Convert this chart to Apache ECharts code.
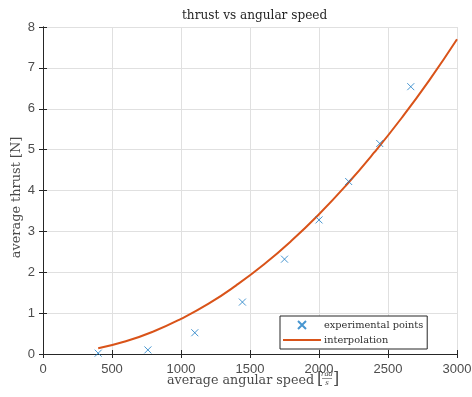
<!DOCTYPE html>
<html>
<head>
<meta charset="utf-8">
<script src="https://cdn.jsdelivr.net/npm/echarts@6/dist/echarts.min.js"></script>
<style>
  html, body { margin: 0; padding: 0; background: #fff; }
  #chart { width: 472px; height: 397px; }
</style>
</head>
<body>
<div id="chart"></div>
<script>
// 实验点
const speedPoints = [400, 760, 1100, 1445, 1750, 2000, 2215, 2440, 2665];
const thrustPoints = [0.02, 0.10, 0.52, 1.27, 2.32, 3.28, 4.22, 5.15, 6.54];
// 插值曲线 (读自图片)
const fitSpeed = [400, 600, 800, 1000, 1200, 1400, 1600, 1800, 2000, 2200, 2400, 2600, 2800, 3000];
const fitThrust = [0.14, 0.31, 0.55, 0.86, 1.23, 1.68, 2.19, 2.77, 3.42, 4.14, 4.93, 5.78, 6.70, 7.70];

const serif = '"DejaVu Serif", "Liberation Serif", serif';
const sans = '"Liberation Sans", Arial, sans-serif';
const axisColor = '#262626';
const labelColor = '#4a4a4a';

// 按目标宽度求字号
const ctx = document.createElement('canvas').getContext('2d');
const fitSize = (text, width) => {
    ctx.font = '20px ' + serif;
    return Math.round(20 * width / ctx.measureText(text).width * 10) / 10;
};
const titleSize = fitSize('thrust vs angular speed', 145);
const xNameSize = fitSize('average angular speed', 147);
const yNameSize = fitSize('average thrust [N]', 122);
const legendSize = fitSize('experimental points', 99);
ctx.font = xNameSize + 'px ' + serif;
const mainW = ctx.measureText('average angular speed').width;

const myChart = echarts.init(document.getElementById('chart'));

const baseAxis = {
    axisLine: { show: true, lineStyle: { color: axisColor, width: 1 } },
    axisTick: { show: true, inside: true, length: 4, lineStyle: { color: axisColor } },
    splitLine: { show: false },
    axisLabel: { show: false }
};

const option = {
    animation: false,
    title: {
        text: 'thrust vs angular speed',
        left: 177,
        top: 5,
        textStyle: { fontFamily: serif, fontWeight: 'normal', fontSize: titleSize, color: '#262626' }
    },
    grid: { left: 43, right: 15, top: 27, bottom: 43, outerBoundsMode: 'none', containLabel: false },
    legend: {
        orient: 'vertical',
        left: 280,
        top: 316,
        padding: [2, 4, 2, 3],
        itemGap: 1,
        itemWidth: 38,
        itemHeight: 8,
        borderColor: axisColor,
        borderWidth: 1,
        borderRadius: 0,
        backgroundColor: '#fff',
        textStyle: { fontFamily: serif, fontSize: legendSize, lineHeight: 14, color: '#303030', padding: [0, 0, 0, -2] },
        data: [
            { name: 'experimental points', icon: 'path://M0,0L10,10M10,0L0,10' },
            { name: 'interpolation', icon: 'path://M0,4L38,4L38,6.2L0,6.2Z', itemStyle: { color: '#D95319' } }
        ]
    },
    xAxis: [
        Object.assign({}, baseAxis, {
            type: 'value', position: 'bottom', min: 0, max: 3000, interval: 500,
            splitLine: { show: true, lineStyle: { color: '#e0e0e0' } },
            axisLabel: { show: true, color: '#4d4d4d', fontFamily: sans, fontSize: 13, margin: 9, formatter: v => String(v) }
        }),
        Object.assign({}, baseAxis, { type: 'value', position: 'top', min: 0, max: 3000, interval: 500 })
    ],
    yAxis: [
        Object.assign({}, baseAxis, {
            type: 'value', position: 'left', min: 0, max: 8, interval: 1,
            splitLine: { show: true, lineStyle: { color: '#e0e0e0' } },
            axisLabel: { show: true, color: '#4d4d4d', fontFamily: sans, fontSize: 13, margin: 8 },
            name: 'average thrust [N]',
            nameLocation: 'middle',
            nameGap: 20,
            nameMoveOverlap: false,
            nameTextStyle: { fontFamily: serif, fontSize: yNameSize, color: labelColor, padding: [0, 14, 0, 0] }
        }),
        Object.assign({}, baseAxis, { type: 'value', position: 'right', min: 0, max: 8, interval: 1 })
    ],
    graphic: [
        {
            type: 'group',
            left: 167,
            top: 371,
            children: [
                { type: 'text', x: 0, y: 11, style: { text: 'average angular speed', font: xNameSize + 'px ' + serif, fill: labelColor, verticalAlign: 'middle' } },
                { type: 'text', x: mainW + 3, y: 10, style: { text: '[', font: '16px ' + serif, fill: labelColor, verticalAlign: 'middle' } },
                { type: 'text', x: mainW + 13, y: 5, style: { text: 'rad', font: 'italic 7px ' + serif, fill: labelColor, align: 'center', verticalAlign: 'middle' } },
                { type: 'line', shape: { x1: mainW + 8, y1: 9, x2: mainW + 18, y2: 9 }, style: { stroke: labelColor, lineWidth: 0.6 } },
                { type: 'text', x: mainW + 13, y: 13.5, style: { text: 's', font: 'italic 7px ' + serif, fill: labelColor, align: 'center', verticalAlign: 'middle' } },
                { type: 'text', x: mainW + 19, y: 10, style: { text: ']', font: '16px ' + serif, fill: labelColor, verticalAlign: 'middle' } }
            ]
        }
    ],
    series: [
        {
            name: 'experimental points',
            type: 'scatter',
            data: speedPoints.map((s, i) => [s, thrustPoints[i]]),
            symbol: 'path://M0,0L10,10M10,0L0,10',
            symbolSize: 7,
            itemStyle: { color: '#1a7cc4', borderColor: '#1a7cc4', borderWidth: 1 },
            emphasis: { disabled: true },
            z: 3
        },
        {
            name: 'interpolation',
            type: 'line',
            data: fitSpeed.map((s, i) => [s, fitThrust[i]]),
            smooth: true,
            symbol: 'none',
            lineStyle: { color: '#D95319', width: 2 },
            itemStyle: { color: '#D95319' },
            emphasis: { disabled: true },
            z: 2
        }
    ]
};

myChart.setOption(option);
</script>
</body>
</html>
